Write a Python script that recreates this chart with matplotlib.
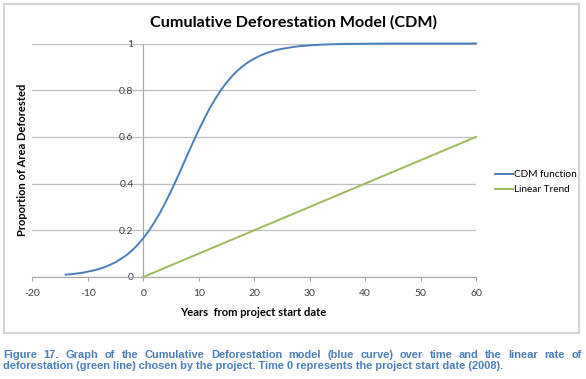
import matplotlib
matplotlib.use('Agg')
import matplotlib.pyplot as plt
from matplotlib.patches import Rectangle

# values
cdm_years = [-14, -13, -12, -11, -10, -9, -8, -7, -6, -5, -4, -3, -2, -1,
             0, 1, 2, 3, 4, 5, 6, 7, 8, 9, 10, 11, 12, 13, 14, 15, 16, 17,
             18, 19, 20, 21, 22, 23, 24, 25, 26, 27, 28, 29, 30, 32, 34, 36,
             40, 45, 50, 60]
cdm_values = [0.010, 0.012, 0.015, 0.018, 0.023, 0.028, 0.034, 0.042, 0.052,
              0.063, 0.078, 0.094, 0.114, 0.138, 0.166, 0.197, 0.234, 0.274,
              0.319, 0.367, 0.418, 0.471, 0.525, 0.578, 0.629, 0.677, 0.723,
              0.763, 0.800, 0.832, 0.860, 0.884, 0.904, 0.921, 0.935, 0.947,
              0.957, 0.965, 0.972, 0.977, 0.981, 0.985, 0.988, 0.990, 0.992,
              0.995, 0.997, 0.998, 0.999, 1.000, 1.000, 1.000]
trend_years = [0, 60]
trend_values = [0.0, 0.6]

x_ticks = [-20, -10, 0, 10, 20, 30, 40, 50, 60]
y_ticks = [0, 0.2, 0.4, 0.6, 0.8, 1.0]
y_labels = ['0', '0.2', '0.4', '0.6', '0.8', '1']

title = 'Cumulative Deforestation Model (CDM)'
caption1 = ('Figure 17. Graph of the Cumulative Deforestation model (blue curve) '
            'over time and the linear rate of')
caption2 = ('deforestation (green line) chosen by the project. Time 0 represents '
            'the project start date (2008).')

W, H = 586, 379
fig = plt.figure(figsize=(W / 100, H / 100), dpi=100)
fig.patch.set_facecolor('white')

# chart frame
fig.patches.append(Rectangle((4 / W, 1 - 333 / H), 575 / W, 329 / H,
                             transform=fig.transFigure, fill=False,
                             edgecolor='#d4d4d4', lw=1.5))

ax = fig.add_axes([32.3 / W, 1 - 277 / H, 443.7 / W, 233.5 / H])
ax.plot(cdm_years, cdm_values, color='#4a7ebb', lw=1.4, label='CDM function',
        clip_on=False, zorder=3)
ax.plot(trend_years, trend_values, color='#9bbb59', lw=1.4, label='Linear Trend',
        clip_on=False, zorder=3)

ax.set_xlim(-20, 60)
ax.set_ylim(0, 1)
ax.set_xticks(x_ticks)
ax.set_xticklabels([str(v) for v in x_ticks])
ax.set_yticks(y_ticks)
ax.set_yticklabels(y_labels)

for s in ['top', 'right']:
    ax.spines[s].set_visible(False)
ax.spines['left'].set_position(('data', 0))
ax.spines['left'].set_color('#a6a6a6')
ax.spines['bottom'].set_color('#a6a6a6')
ax.yaxis.grid(True, color='#bfbfbf', lw=0.9)
ax.set_axisbelow(True)

ax.tick_params(axis='y', length=0, pad=7, labelsize=7.5, labelcolor='#404040')
ax.tick_params(axis='x', length=3, color='#a6a6a6', pad=6, labelsize=7.5,
               labelcolor='#404040')
for lab in ax.get_xticklabels() + ax.get_yticklabels():
    lab.set_family('Lato')

fig.text(0.5, 1 - 22 / H, title, ha='center', va='center', family='Lato',
         weight='bold', fontsize=11.6)
fig.text(253 / W, 1 - 313 / H, 'Years  from project start date', ha='center',
         va='center', family='Lato', weight='bold', fontsize=8)
fig.text(22.5 / W, 1 - 160 / H, 'Proportion of Area Deforested', ha='center',
         va='center', rotation=90, family='Lato', weight='bold', fontsize=8)

fig.legend(loc='center left', bbox_to_anchor=(495 / W, 1 - 182 / H),
           frameon=False, prop={'family': 'Lato', 'size': 7.2},
           handlelength=1.75, handletextpad=0.1, borderpad=0,
           borderaxespad=0, labelspacing=0.6)

# caption, first line justified
cap_kw = dict(family='Liberation Sans', weight='bold', fontsize=7.9,
              color='#4a7ebb', va='baseline')
renderer = fig.canvas.get_renderer()
words = caption1.split()
texts = [fig.text(0, 1 - 357.5 / H, w, **cap_kw) for w in words]
widths = [t.get_window_extent(renderer).width for t in texts]
gap = (579 - sum(widths)) / (len(words) - 1)
x = 3.0
for t, w in zip(texts, widths):
    t.set_x(x / W)
    x += w + gap
fig.text(3 / W, 1 - 369 / H, caption2, **cap_kw)

fig.savefig('out.png', dpi=100)
